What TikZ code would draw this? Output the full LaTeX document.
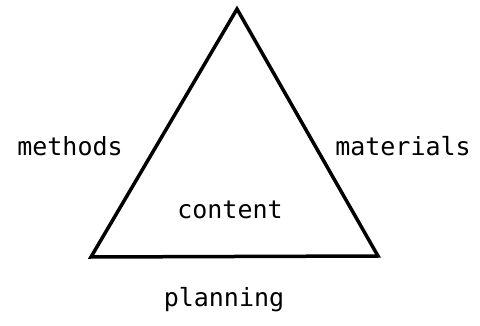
\documentclass[tikz,border=0pt]{standalone}
\usepackage{fontspec}
\setmonofont{DejaVu Sans Mono}
\begin{document}
\begin{tikzpicture}[x=1pt,y=-1pt,
  lbl/.style={font=\ttfamily\fontsize{25}{25}\selectfont, inner sep=0pt, anchor=base},
  edge/.style={line width=3.5pt, line join=miter}]
\useasboundingbox (0,0) rectangle (480,326);
\coordinate (apex) at (237,9);
\coordinate (bl) at (91,257);
\coordinate (br) at (378,256);
\draw[edge] (apex) -- (bl) -- (br) -- cycle;
\node[lbl] (methods) at (70,156) {methods};
\node[lbl] (materials) at (403,156) {materials};
\node[lbl] (content) at (230,219) {content};
\node[lbl] (planning) at (224,307) {planning};
\end{tikzpicture}
\end{document}
